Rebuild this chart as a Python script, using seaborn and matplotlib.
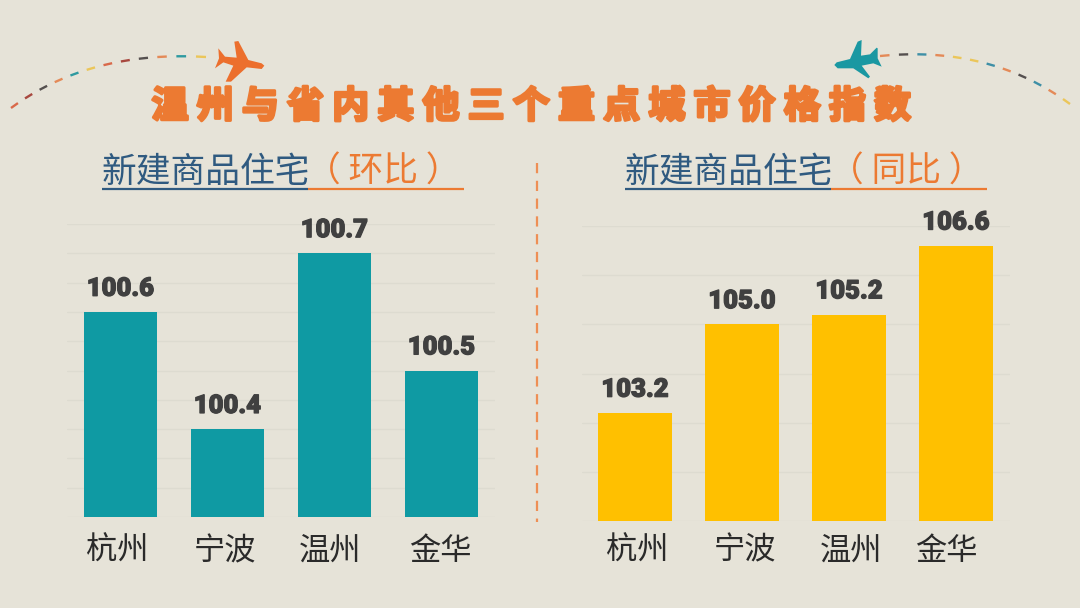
import numpy as np
import pandas as pd
import matplotlib
matplotlib.use('Agg')
import matplotlib.pyplot as plt
import matplotlib.patheffects as pe
from matplotlib.patches import Polygon
from matplotlib.transforms import ScaledTranslation
import seaborn as sns

cities = ['杭州', '宁波', '温州', '金华']
mom_values = [100.6, 100.4, 100.7, 100.5]
yoy_values = [103.2, 105.0, 105.2, 106.6]
mom_grid = [100.25, 100.30, 100.35, 100.40, 100.45, 100.50, 100.55, 100.60, 100.65, 100.70, 100.75]
yoy_grid = [101, 102, 103, 104, 105, 106, 107]

title = '温 州 与 省 内 其 他 三 个 重 点 城 市 价 格 指 数'
sub_main = '新建商品住宅'
sub_mom = '（ 环比 ）'
sub_yoy = '（ 同比 ）'

BG = '#E6E3D8'
TEAL = '#0F9AA3'
YELLOW = '#FFC000'
ORANGE = '#EC7A32'
NAVY = '#2F5A80'
GRID = '#DDDBD0'
CJK = ['Noto Sans CJK SC', 'DejaVu Sans']

sns.set_theme(style='white')
plt.rcParams['font.family'] = CJK

W, H = 1080, 608
fig = plt.figure(figsize=(W / 100, H / 100), dpi=100, facecolor=BG)


def draw_panel(box, values, color, grid, label_dx, pad):
    # box is left, top, right, bottom in pixels
    l, t, r, b = box
    ax = fig.add_axes([l / W, 1 - b / H, (r - l) / W, (b - t) / H], facecolor='none')
    df = pd.DataFrame({'city': cities, 'value': values})
    sns.barplot(data=df, x='city', y='value', color=color, saturation=1, width=0.69, linewidth=0, ax=ax)
    ax.set_ylim(grid[0], grid[-1])
    ax.set_yticks(grid)
    ax.set_axisbelow(True)
    ax.grid(axis='y', color=GRID, lw=0.9)
    ax.set_xlabel('')
    ax.set_ylabel('')
    ax.tick_params(axis='y', length=0, labelleft=False)
    ax.tick_params(axis='x', length=0, pad=pad, labelsize=22.5, labelcolor='#2A2A2A')
    sns.despine(ax=ax, left=True, bottom=True)
    # the city names sit a bit off centre in the original
    for lab, dx in zip(ax.get_xticklabels(), label_dx):
        lab.set_transform(lab.get_transform() + ScaledTranslation(dx / 100, 0, fig.dpi_scale_trans))
    ax.bar_label(ax.containers[0], fmt='%.1f', padding=8, color='#404040', fontsize=18.5,
                 family='Roboto', fontweight='black',
                 path_effects=[pe.withStroke(linewidth=0.9, foreground='#404040')])
    return ax


draw_panel((67, 224, 495, 517), mom_values, TEAL, mom_grid, [-3, -3, -4, -1], 13)
draw_panel((581.5, 226, 1009.5, 521), yoy_values, YELLOW, yoy_grid, [2, 3, 2, -10], 10)

# overlay in pixel coordinates for the title, underlines and planes
deco = fig.add_axes([0, 0, 1, 1], facecolor='none')
deco.set_xlim(0, W)
deco.set_ylim(H, 0)
deco.axis('off')

deco.text(531, 107, title, ha='center', va='center', fontsize=26.5, fontweight='black', color=ORANGE,
          path_effects=[pe.withStroke(linewidth=2.2, foreground=ORANGE)])

for x0, sub in [(102, sub_mom), (625, sub_yoy)]:
    deco.text(x0, 172, sub_main, ha='left', va='center', fontsize=25, fontweight='light', color=NAVY)
    deco.text(x0 + 204, 172, sub, ha='left', va='center', fontsize=25, fontweight='light', color=ORANGE)
    deco.plot([x0, x0 + 206], [188.5, 188.5], color=NAVY, lw=1.6, solid_capstyle='butt')
    deco.plot([x0 + 206, x0 + 362], [188.5, 188.5], color=ORANGE, lw=1.6, solid_capstyle='butt')

deco.plot([537, 537], [163, 522], color='#EE8F55', lw=1.6, linestyle=(0, (4.6, 3.4)))

# flight paths, each dash gets its own colour
left_cols = ['#D9694A', '#A8483F', '#55504F', '#E48A58', '#2E9AA0', '#EBC65A']
right_cols = ['#EBC65A', '#E48A58', '#3E8FA6', '#55504F', '#E48A58', '#3E8FA6', '#EBC65A', '#EBC65A',
              '#E48A58', '#3E8FA6', '#55504F', '#E48A58']


def flight_path(p0, p1, p2, n, cols):
    ts = np.linspace(0, 1, 2 * n)
    xs = (1 - ts) ** 2 * p0[0] + 2 * ts * (1 - ts) * p1[0] + ts ** 2 * p2[0]
    ys = (1 - ts) ** 2 * p0[1] + 2 * ts * (1 - ts) * p1[1] + ts ** 2 * p2[1]
    for i in range(n):
        deco.plot(xs[2 * i:2 * i + 2], ys[2 * i:2 * i + 2], color=cols[i % len(cols)], lw=1.7,
                  solid_capstyle='butt')


flight_path((11, 108), (90, 50), (206, 57), 12, left_cols)
flight_path((1070, 104), (990, 45), (880, 56), 12, right_cols)

# planes in 3x crop units
left_plane = [(178, 92), (170, 102), (125, 97), (78, 140), (62, 140), (85, 92), (55, 82), (30, 100),
              (42, 70), (40, 40), (60, 65), (95, 68), (88, 20), (100, 18), (130, 75), (170, 85)]
right_plane = [(28, 90), (35, 82), (75, 72), (98, 20), (110, 15), (108, 62), (135, 58), (155, 38),
               (158, 40), (158, 70), (170, 95), (145, 85), (110, 92), (135, 125), (130, 130),
               (85, 100), (38, 100)]
deco.add_patch(Polygon([(205 + x / 3, 35 + y / 3) for x, y in left_plane], closed=True, fc='#EC6F2D', ec='none'))
deco.add_patch(Polygon([(825 + x / 3, 35 + y / 3) for x, y in right_plane], closed=True, fc='#1A98A2', ec='none'))

fig.savefig('out.png', dpi=100, facecolor=BG)
